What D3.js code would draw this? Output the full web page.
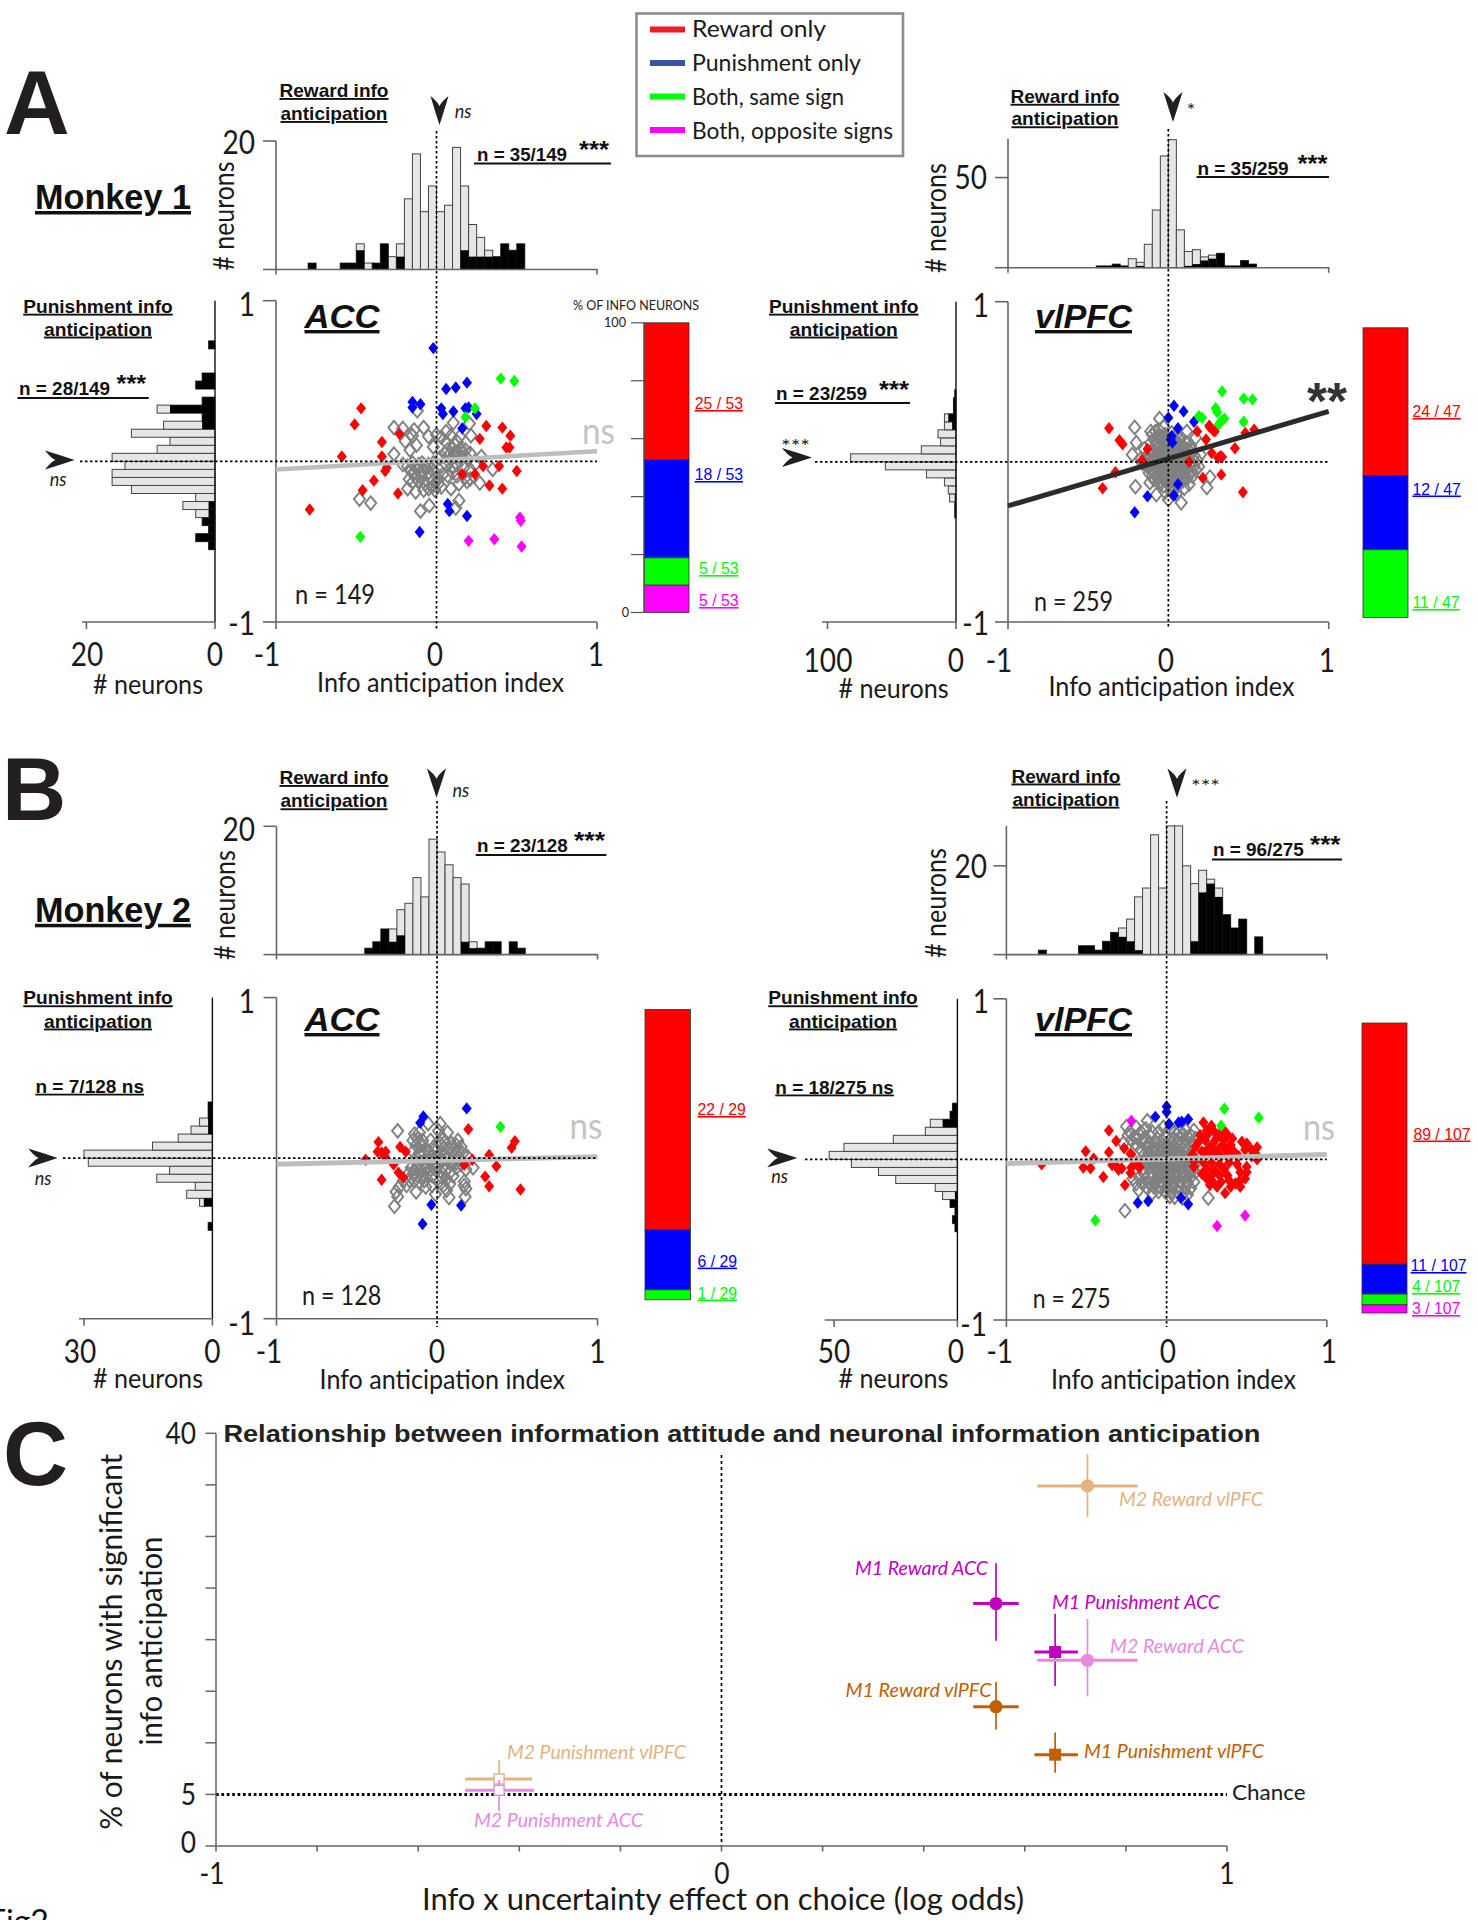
<!DOCTYPE html>
<html><head><meta charset="utf-8">
<script src="https://cdn.jsdelivr.net/npm/d3@7"></script>
<style>html,body{margin:0;padding:0;background:#fff;overflow:hidden}svg{display:block}</style>
</head><body><svg id="c" width="1478" height="1920"></svg>
<script>
// ---------- DATA ----------
const legendLabels=["Reward only","Punishment only","Both, same sign","Both, opposite signs"];
const legendColors=["#ED1C24","#3953A4","#00FF00","#FF00FF"];
const classColors=["#FF0000","#0000FF","#00FF00","#FF00FF"];

// histograms: 40 bins of 0.05 from -1 to 1
const m1AccRewardTotal=[0,0,0,0,1,0,0,0,1,1,4,1,1,4,2,4,11,18,9,13,9,10,19,13,7,5,3,2,4,3,4,0,0,0,0,0,0,0,0,0];
const m1AccRewardSig  =[0,0,0,0,1,0,0,0,1,1,3,0,1,4,0,2,0,0,0,0,0,0,0,3,2,2,2,2,4,3,4,0,0,0,0,0,0,0,0,0];
const m1AccPunishTotal=[0,0,0,0,0,0,0,0,0,1,3,1,2,3,5,3,13,16,16,14,16,9,7,13,8,2,9,2,0,3,2,0,0,0,1,0,0,0,0,0];
const m1AccPunishSig  =[0,0,0,0,0,0,0,0,0,1,3,1,2,1,1,0,0,0,0,0,0,0,0,0,2,2,7,2,0,3,2,0,0,0,1,0,0,0,0,0];
const m1VlRewardTotal =[0,0,0,0,0,0,0,0,0,0,0,1,1,2,1,5,3,13,32,62,71,21,9,10,6,7,8,1,1,4,2,0,0,0,0,0,0,0,0,0];
const m1VlRewardSig   =[0,0,0,0,0,0,0,0,0,0,0,1,1,2,1,0,1,0,0,0,0,0,1,2,4,5,8,1,1,4,2,0,0,0,0,0,0,0,0,0];
const m1VlPunishTotal =[0,0,0,0,0,0,0,0,0,0,0,0,0,1,1,5,6,9,23,55,82,27,12,14,9,9,2,2,1,0,0,0,0,0,0,0,0,0,0,0];
const m1VlPunishSig   =[0,0,0,0,0,0,0,0,0,0,0,0,0,1,1,1,0,0,0,0,0,0,0,0,3,6,2,2,1,0,0,0,0,0,0,0,0,0,0,0];
const m2AccRewardTotal=[0,0,0,0,0,0,0,0,0,0,0,1,2,4,4,7,8,12,9,18,16,14,12,11,2,1,2,2,0,2,1,0,0,0,0,0,0,0,0,0];
const m2AccRewardSig  =[0,0,0,0,0,0,0,0,0,0,0,1,2,4,2,3,0,0,0,0,0,0,0,2,1,1,2,2,0,2,1,0,0,0,0,0,0,0,0,0];
const m2AccPunishTotal=[0,0,0,0,0,0,0,0,0,0,0,1,0,0,3,6,4,13,10,29,30,14,8,5,3,1,1,0,0,0,0,0,0,0,0,0,0,0,0,0];
const m2AccPunishSig  =[0,0,0,0,0,0,0,0,0,0,0,1,0,0,2,0,0,0,0,0,0,0,0,1,1,1,1,0,0,0,0,0,0,0,0,0,0,0,0,0];
const m2VlRewardTotal =[0,0,0,0,1,0,0,0,0,2,2,1,3,5,6,8,13,15,27,15,29,29,20,16,19,17,15,9,6,8,0,4,0,0,0,0,0,0,0,0];
const m2VlRewardSig   =[0,0,0,0,1,0,0,0,0,2,2,1,3,5,4,3,1,0,0,0,0,0,0,3,14,16,13,9,6,8,0,4,0,0,0,0,0,0,0,0];
const m2VlPunishTotal =[0,0,0,0,0,0,0,0,0,0,0,1,2,1,3,6,9,25,32,43,52,46,26,13,11,3,2,0,0,0,0,0,0,0,0,0,0,0,0,0];
const m2VlPunishSig   =[0,0,0,0,0,0,0,0,0,0,0,1,2,1,3,1,0,0,0,0,0,0,0,0,6,3,2,0,0,0,0,0,0,0,0,0,0,0,0,0];

// regression end points [y at x=-1, y at x=1]
const m1AccFit=[-0.051,0.063], m1VlFit=[-0.275,0.315], m2AccFit=[-0.038,0.009], m2VlFit=[-0.026,0.031];

// stacked bars: reward only, punishment only, both same, both opposite
const m1AccCounts=[25,18,5,5], m1VlCounts=[24,12,11,0], m2AccCounts=[22,6,1,0], m2VlCounts=[89,11,4,3];

// scatter points [reward index, punishment index]
const m1AccRed=[[-.47,.33],[-.51,.23],[-.23,.17],[-.34,.12],[-.59,.03],[-.34,.03],[-.32,-.06],[-.31,-.04],[-.39,-.12],[-.46,-.18],[-.24,-.20],[-.79,-.30],[.31,.22],[.41,.21],[.46,.16],[.27,.14],[.435,.086],[.455,.086],[.29,-.03],[.39,-.03],[.50,-.06],[.16,-.08],[.24,-.08],[.33,-.15],[.41,-.17]];
const m1AccBlue=[[-.02,.705],[.06,.45],[.12,.46],[.19,.49],[-.15,.37],[-.15,.335],[-.10,.355],[.03,.33],[.04,.295],[.105,.31],[.18,.33],[.20,.335],[.25,.295],[.16,.205],[.07,-.265],[.08,-.31],[.19,-.34],[-.105,-.44]];
const m1AccGreen=[[.40,.515],[.485,.50],[.24,.33],[.18,.275],[-.475,-.47]];
const m1AccMagenta=[[.52,-.35],[.525,-.37],[.20,-.495],[.36,-.485],[.53,-.53]];
const m1AccGray=[[-.265,.21],[-.21,.205],[-.08,.21],[-.14,.195],[-.15,.16],[-.16,.17],[-.05,.155],[0,.165],[.06,.185],[.105,.24],[.205,.235],[.215,.16],[.145,.155],[-.12,.315],[-.195,.125],[-.165,.07],[-.125,.10],[-.02,.09],[-.265,.045],[.28,.03],[.35,-.05],[.27,-.135],[-.48,-.235],[-.41,-.26],[-.10,-.31],[-.045,-.275],[.14,-.245],[.12,-.29],[.19,-.125],[.03,.15],[.06,.12],[.09,.16],[.11,.11],[.13,.12],[.15,.08],[.10,.08],[.07,.07],[.05,.05],[.08,.04],[.11,.05],[.13,.06],[.16,.05],[.18,.07],[.12,.03],[.09,.01],[.15,.02],[.19,.02],[.21,.05],[.24,-.02],[.02,.02],[.03,-.03],[.06,-.02],[.1,-.03],[.13,-.02],[.17,-.04],[.21,-.05],[.1,-.07],[.13,-.09],[.18,-.1],[.21,-.11],[.14,-.14],[.07,-.09],[.04,-.08],[-.21,-.02],[-.18,-.03],[-.15,-.01],[-.13,-.03],[-.11,-.02],[-.09,-.01],[-.07,-.03],[-.05,-.02],[-.02,-.01],[-.16,-.06],[-.14,-.07],[-.12,-.05],[-.1,-.07],[-.08,-.06],[-.05,-.07],[-.03,-.05],[-.17,-.11],[-.15,-.13],[-.13,-.1],[-.11,-.12],[-.09,-.1],[-.07,-.14],[-.04,-.1],[-.02,-.12],[.01,-.11],[-.02,-.15],[-.01,-.18],[.01,-.14],[-.05,-.17],[-.08,-.18],[-.13,-.19],[-.18,-.17],[.03,-.16],[.09,-.17]];
const m1VlRed=[[-.37,.21],[-.305,.135],[-.285,.11],[-.13,.08],[-.165,.01],[-.33,-.065],[-.41,-.165],[.18,.19],[.255,.225],[.29,.19],[.235,.14],[.48,.18],[.535,.20],[.415,.085],[.325,.035],[.27,.055],[.31,.025],[.13,0],[.215,-.10],[.33,-.08],[.465,-.19],[.26,.215],[.335,.03],[.28,.195]];
const m1VlBlue=[[.035,.35],[.095,.315],[0,.275],[.06,.21],[.16,.25],[.02,.16],[.025,.12],[.015,.14],[.06,-.14],[.035,-.21],[-.13,-.215],[-.21,-.315]];
const m1VlGreen=[[.335,.44],[.47,.395],[.525,.39],[.21,.275],[.19,.285],[.295,.335],[.305,.31],[.35,.27],[.33,.255],[.315,.235],[.47,.25]];
const m1VlGray=[[-.21,.215],[-.2,.12],[-.225,.045],[-.205,-.155],[-.055,.27],[.26,-.095],[.24,-.16],[.08,-.255],[0,-.235],[-.075,-.205],[-.115,-.13],[.10,-.165],[.115,.19],[.17,.15],[.17,-.05],[.2,.045],[-.11,.19],[-.1,.17],[-.08,.19],[-.06,.2],[-.03,.22],[-.09,.14],[-.11,.12],[-.07,.12],[-.05,.16],[-.02,.17],[.02,.18],[.05,.17],[.08,.15],[.11,.12],[.14,.1],[.04,.13],[.07,.11],[.1,.08],[.13,.07],[.16,.04],[.18,.01],[.19,-.03],[.15,-.01],[.12,.03],[.09,.05],[.06,.07],[.03,.09],[0,.11],[-.03,.12],[-.06,.09],[-.09,.07],[-.12,.05],[-.14,.03],[-.16,-.01],[-.13,-.03],[-.1,.01],[-.08,.03],[-.05,.05],[-.02,.07],[.01,.06],[.04,.04],[.07,.02],[.1,0],[.13,-.02],[.14,-.06],[.11,-.05],[.08,-.03],[.05,-.01],[.02,.01],[-.01,.03],[-.04,.01],[-.07,-.01],[-.1,-.04],[-.12,-.07],[-.09,-.07],[-.06,-.05],[-.03,-.03],[0,-.02],[.03,-.04],[.06,-.06],[.09,-.08],[.12,-.1],[.09,-.12],[.06,-.1],[.03,-.08],[0,-.06],[-.03,-.07],[-.06,-.09],[-.09,-.11],[-.06,-.13],[-.03,-.11],[0,-.1],[.03,-.12],[.06,-.15],[.03,-.16],[0,-.14],[-.03,-.15],[-.02,-.19],[.02,-.19],[.05,-.2],[.13,-.14],[.15,-.09],[-.04,.04],[-.02,.02],[0,.04],[.02,.05],[.04,.02],[.06,.03],[-.01,-.01],[.01,-.03],[.03,0],[-.03,-.01],[-.05,-.03],[-.07,.05],[-.09,.02],[-.11,-.01],[.08,-.06],[.05,-.04],[.02,-.06],[-.01,-.05],[-.04,-.06],[.05,.09],[.02,.1],[-.01,.13],[-.04,.14],[-.07,.16],[.09,.1],[.12,.06],[.15,.07],[-.13,.01],[-.15,.08],[-.17,.02],[.16,-.03],[.11,-.03],
 [-.06,.03],[-.03,.05],[0,.07],[.03,.06],[.06,.05],[.08,.07],[-.02,-.04],[.01,-.01],[.04,-.02],[.07,-.04],[-.05,.0],[-.08,-.03],[.0,-.08],[.03,-.06],[-.03,-.09],[-.06,-.07],[.06,-.08],[.1,-.02],[.05,.07],[.01,.09],[-.04,.09],[-.07,.08],[.11,.03],[.09,-.01],[-.11,.06],[-.12,-.03],[-.1,-.09],[-.01,-.12],[.02,-.14],[-.05,-.12],[-.01,.15],[.03,.15],[-.08,.1],[.07,.14],[.04,-.11],[.1,-.1],[.01,.0],[-.02,-.02],[.03,.03],[0,.0]];
const m2AccRed=[[-.445,-.01],[-.365,.10],[-.37,.04],[-.345,.035],[-.32,.04],[-.325,.01],[-.27,-.04],[-.23,.07],[-.195,.04],[-.24,-.09],[-.21,-.12],[-.345,-.135],[.195,.18],[.22,-.01],[.17,-.04],[.325,.02],[.37,-.05],[.485,.105],[.465,.065],[.30,-.115],[.325,-.175],[.52,-.195]];
const m2AccBlue=[[.185,.31],[-.085,.26],[-.105,.22],[-.035,-.29],[.15,-.295],[-.09,-.41]];
const m2AccGreen=[[.395,.195]];
const m2AccGray=[[-.245,.17],[-.055,.215],[.02,.215],[.065,.16],[.13,.11],[.225,-.06],[.17,-.145],[.175,-.24],[.075,-.245],[-.01,-.225],[-.13,-.21],[-.265,-.30],[-.255,-.21],[-.245,-.24],[-.235,-.18],[.17,-.17],[.18,-.19],[-.14,.15],[-.11,.16],[-.15,.11],[-.12,.12],[-.09,.11],[-.13,.08],[-.1,.08],[-.07,.06],[-.05,.04],[-.11,.03],[-.08,.03],[-.15,.04],[.01,.17],[.03,.13],[.02,.09],[.05,.1],[.09,.09],[.12,.08],[.15,.07],[.04,.06],[.07,.06],[.1,.05],[.13,.04],[.16,.03],[0,.05],[.02,.03],[.05,.02],[.08,.02],[.11,.01],[.14,0],[-.03,.01],[-.06,.01],[0,.01],[.03,-.01],[.06,-.01],[.09,-.02],[.12,-.03],[.15,-.04],[-.14,-.01],[-.11,-.03],[-.08,-.03],[-.05,-.02],[-.02,-.03],[.01,-.04],[.04,-.05],[-.16,-.06],[-.13,-.06],[-.1,-.07],[-.07,-.06],[-.04,-.07],[-.01,-.07],[.02,-.08],[.05,-.08],[.08,-.09],[-.18,-.1],[-.15,-.1],[-.12,-.11],[-.09,-.11],[-.06,-.1],[-.03,-.11],[.03,-.12],[.06,-.13],[.1,-.11],[-.17,-.14],[-.14,-.14],[-.11,-.15],[-.08,-.14],[.01,-.15],[.04,-.17],[.08,-.16],[-.21,-.14],[-.19,-.17],[-.03,-.17],[-.07,-.18],[.12,-.06],[.18,-.07],[.19,.01],[.1,-.03],[.02,-.01],[-.02,.07],[-.04,.11],[.06,-.2]];
const m2VlRed=[[-.78,-.03],[-.36,.18],[-.315,.115],[-.265,.07],[-.505,.05],[-.455,.005],[-.36,.045],[-.225,.035],[-.52,-.05],[-.475,-.055],[-.395,-.11],[-.26,-.16],[-.32,-.035],[-.30,-.065],[-.34,-.035],[-.225,-.085],[-.205,-.035],[-.17,-.05],[-.28,-.055],[-.185,-.015],[-.22,.03],[-.22,-.05],[-.17,-.045],[.23,.23],[.28,.21],[.25,.18],[.21,.15],[.18,.08],[.2,.11],[.24,.12],[.3,.17],[.33,.15],[.375,.16],[.36,.12],[.41,.13],[.47,.11],[.5,.1],[.49,.06],[.4,.09],[.34,.08],[.29,.1],[.26,.07],[.22,.05],[.31,.05],[.37,.06],[.42,.05],[.53,.06],[.565,.075],[.565,0],[.56,.03],[.5,-.045],[.44,-.03],[.39,-.02],[.33,-.03],[.28,-.02],[.23,-.02],[.17,-.045],[.17,-.01],[.25,-.06],[.3,-.07],[.36,-.06],[.46,-.08],[.5,-.08],[.49,-.12],[.45,-.14],[.38,-.1],[.33,-.1],[.28,-.1],[.25,-.12],[.29,-.14],[.34,-.14],[.39,-.13],[.43,-.15],[.46,-.17],[.365,-.21],[.315,-.17],[.4,-.17],[.27,-.16],[.22,-.09],[.16,.03],[.24,.02],[.28,.04],[.34,.02],[.39,.03],[.45,.02],[.53,.02],[.35,.19],[.31,.13],[.26,.16]];
const m2VlBlue=[[-.18,-.27],[-.115,-.26],[-.07,.265],[0,.33],[0,.295],[.015,.22],[.075,.23],[.095,.235],[.135,.25],[.09,-.24],[.135,-.28]];
const m2VlGreen=[[-.445,-.38],[.36,.315],[.34,.21],[.575,.26]];
const m2VlMagenta=[[-.22,.24],[.49,-.35],[.315,-.415]];
const m2VlGray=[[-.12,.24],[.26,-.24],[.05,-.235],[-.26,-.32],[-.25,.205],[-.175,-.19],[-.19,.2],[-.24,.15],[-.22,.12],[-.27,.1],[-.2,.14],[-.16,.17],[-.13,.19],[-.1,.14],[-.05,.17],[-.02,.2],[.02,.19],[.05,.17],[.08,.17],[.12,.18],[.15,.15],[.17,.18],[.12,.12],[.08,.13],[.04,.12],[0,.14],[-.03,.12],[-.07,.11],[-.11,.1],[-.15,.11],[-.19,.09],[-.16,.06],[-.12,.07],[-.08,.07],[-.04,.08],[0,.09],[.04,.08],[.08,.09],[.12,.08],[.16,.1],[.17,.05],[.13,.05],[.09,.04],[.05,.05],[.01,.05],[-.03,.04],[-.07,.04],[-.11,.04],[-.14,.03],[-.12,.01],[-.08,.01],[-.04,.01],[0,.02],[.04,.02],[.08,.01],[.12,.01],[.16,.02],[.18,0],[.15,-.01],[.11,-.02],[.07,-.02],[.03,-.02],[-.01,-.01],[-.05,-.02],[-.09,-.02],[-.13,-.02],[-.15,-.06],[-.11,-.05],[-.07,-.05],[-.03,-.05],[.01,-.05],[.05,-.05],[.09,-.05],[.13,-.05],[.17,-.04],[.18,-.08],[.14,-.08],[.1,-.08],[.06,-.08],[.02,-.08],[-.02,-.08],[-.06,-.08],[-.1,-.08],[-.14,-.09],[-.17,-.11],[-.13,-.12],[-.09,-.11],[-.05,-.11],[-.01,-.11],[.03,-.11],[.07,-.11],[.11,-.11],[.15,-.11],[.17,-.14],[.13,-.14],[.09,-.14],[.05,-.14],[.01,-.14],[-.03,-.14],[-.07,-.14],[-.11,-.15],[-.15,-.15],[-.19,-.15],[-.21,-.12],[-.12,-.18],[-.08,-.17],[-.04,-.17],[0,-.17],[.04,-.17],[.08,-.17],[.12,-.17],[.15,-.18],[.11,-.2],[.07,-.2],[.03,-.2],[-.01,-.2],[-.05,-.2],[-.09,-.21],[.02,-.23],[.13,-.22],[.1,-.24],[.06,-.03],[-.02,.03],[.02,.07],[-.06,.13],[.02,.12],[.06,.1],[.1,.11],[.14,.13],[.18,.13],[.1,.16],[-.09,.17],[-.14,.13],[-.18,.13],[-.23,.17],[-.16,-.03],[.16,-.07],
 [-.1,.06],[-.06,.06],[-.02,.06],[.02,.04],[.06,.06],[.1,.06],[.14,.06],[-.1,-.01],[-.06,-.01],[-.02,.0],[.02,.0],[.06,.0],[.1,.0],[.14,.03],[-.12,-.04],[-.08,-.04],[-.04,-.04],[0,-.04],[.04,-.04],[.08,-.04],[.12,-.04],[-.08,-.1],[-.04,-.1],[0,-.09],[.04,-.09],[.08,-.1],[.12,-.1],[-.06,-.13],[.0,-.12],[.06,-.12],[.02,-.16],[-.02,-.16]];

// panel C
const cNames=["M2 Reward vlPFC","M1 Reward ACC","M1 Punishment ACC","M2 Reward ACC","M1 Reward vlPFC","M1 Punishment vlPFC","M2 Punishment vlPFC","M2 Punishment ACC"];
const cX=[.724,.543,.660,.724,.543,.660,-.44,-.44];
const cXLow=[.625,.498,.619,.625,.498,.619,-.507,-.507];
const cXHigh=[.823,.588,.705,.823,.588,.705,-.375,-.371];
const cY=[34.9,23.5,18.8,18.0,13.5,8.85,6.5,5.4];
const cYLow=[31.9,19.9,15.5,14.5,11.3,7.1,5.1,3.4];
const cYHigh=[38.0,27.4,22.5,22.0,15.9,11.0,8.3,6.4];
const cXTicks=[-1,-.8,-.6,-.4,-.2,0,.2,.4,.6,.8,1];
const cYTicks=[0,5,10,15,20,25,30,35,40];

// ---------- DRAWING ----------
const svg=d3.select("#c");
const SANS="'Liberation Sans',Arial,sans-serif", LATO="Lato,sans-serif";
function txt(x,y,s,o={}){
  const e=svg.append("text").attr("x",x).attr("y",y).text(s)
    .attr("font-family",o.f||LATO).attr("font-size",o.s||24)
    .attr("fill",o.c||"#1a1a1a").attr("text-anchor",o.a||"middle");
  if(o.b)e.attr("font-weight","bold");
  if(o.i)e.attr("font-style","italic");
  if(o.u)e.attr("text-decoration","underline");
  if(o.r!=null)e.attr("transform",`rotate(${o.r} ${x} ${y})`);
  const w=o.w||(o.cond?e.node().getComputedTextLength()*o.cond:null);
  if(w)e.attr("textLength",w).attr("lengthAdjust","spacingAndGlyphs");
  return e;
}
function num(x,cy,s,a,size){txt(x,cy+(size||33)*.35,s,{s:size||33,cond:.85,a:a||"middle"});}
function styleAxis(g,col,w){
  g.selectAll("path,line").attr("stroke",col||"#666").attr("stroke-width",w||1.6).attr("fill","none");
  g.selectAll("text").remove();
}
function arrowDown(x,top,tip,hw){
  const h=tip-top,n=top+h*.35;
  svg.append("path").attr("fill","#231F20")
   .attr("d",`M${x},${tip} Q${x-hw*.62},${top+h*.4} ${x-hw},${top} Q${x-hw*.2},${top+h*.2} ${x},${n} Q${x+hw*.2},${top+h*.2} ${x+hw},${top} Q${x+hw*.62},${top+h*.4} ${x},${tip}Z`);
}
function arrowRight(left,tip,y,hh){
  const w=tip-left,n=left+w*.35;
  svg.append("path").attr("fill","#231F20")
   .attr("d",`M${tip},${y} Q${left+w*.4},${y-hh*.62} ${left},${y-hh} Q${left+w*.2},${y-hh*.2} ${n},${y} Q${left+w*.2},${y+hh*.2} ${left},${y+hh} Q${left+w*.4},${y+hh*.62} ${tip},${y}Z`);
}
const diamond=(w,h)=>`M0,${-h}L${w},0L0,${h}L${-w},0Z`;

function panel(p){
  const x=d3.scaleLinear([-1,1],p.sx), y=d3.scaleLinear([-1,1],p.sy);
  const binW=.05;
  // top histogram
  const ty=d3.scaleLinear([0,p.top.max],[p.top.base,p.top.axisTop]);
  const tg=svg.append("g");
  p.top.total.forEach((v,i)=>{ if(!v)return;
    tg.append("rect").attr("x",x(-1+i*binW)).attr("width",x(binW)-x(0)).attr("y",ty(v)).attr("height",ty(0)-ty(v))
      .attr("fill","#E6E6E6").attr("stroke","#444").attr("stroke-width",1);
  });
  p.top.sig.forEach((v,i)=>{ if(!v)return;
    tg.append("rect").attr("x",x(-1+i*binW)).attr("width",x(binW)-x(0)).attr("y",ty(v)).attr("height",ty(0)-ty(v))
      .attr("fill","#000");
  });
  styleAxis(svg.append("g").attr("transform",`translate(${p.sx[0]},0)`).call(d3.axisLeft(ty).tickValues([0,p.top.tick]).tickSize(13).tickSizeOuter(0).tickFormat("").offset(0)));
  styleAxis(svg.append("g").attr("transform",`translate(0,${p.top.base})`).call(d3.axisBottom(x).tickValues([]).tickSizeOuter(5).offset(0)));
  // left histogram
  const lx=d3.scaleLinear([0,p.left.tick],[p.left.x0,p.left.xTick]);
  const lg=svg.append("g");
  p.left.total.forEach((v,k)=>{ if(!v)return;
    lg.append("rect").attr("x",lx(v)).attr("width",lx(0)-lx(v)).attr("y",y(-1+(k+1)*binW)).attr("height",y(0)-y(binW))
      .attr("fill","#E6E6E6").attr("stroke","#444").attr("stroke-width",1);
  });
  p.left.sig.forEach((v,k)=>{ if(!v)return;
    lg.append("rect").attr("x",lx(v)).attr("width",lx(0)-lx(v)).attr("y",y(-1+(k+1)*binW)).attr("height",y(0)-y(binW))
      .attr("fill","#000");
  });
  svg.append("line").attr("x1",p.left.x0).attr("x2",p.left.x0).attr("y1",p.sy[1]).attr("y2",p.sy[0]).attr("stroke","#111").attr("stroke-width",1.4);
  const lAxisScale=d3.scaleLinear([p.left.x0,p.left.lineLeft],[p.left.x0,p.left.lineLeft]);
  styleAxis(svg.append("g").attr("transform",`translate(0,${p.sy[0]})`).call(d3.axisBottom(lAxisScale).tickValues([lx(0),lx(p.left.tick)]).tickSize(7).tickSizeOuter(0).tickFormat("").offset(0)));
  // scatter axes
  styleAxis(svg.append("g").attr("transform",`translate(${p.sx[0]},0)`).call(d3.axisLeft(y).tickValues([-1,1]).tickSize(13).tickSizeOuter(0).tickFormat("").offset(0)));
  styleAxis(svg.append("g").attr("transform",`translate(0,${p.sy[0]})`).call(d3.axisBottom(x).tickValues([-1,1]).tickSize(7).tickSizeOuter(0).tickFormat("").offset(0)));
  // points
  const sg=svg.append("g");
  sg.selectAll(".g").data(p.gray).join("path").attr("d",diamond(5.6,6.8))
    .attr("transform",d=>`translate(${x(d[0])},${y(d[1])})`).attr("fill","none").attr("stroke","#808080").attr("stroke-width",1.9);
  [[p.red,0],[p.blue,1],[p.green,2],[p.magenta,3]].forEach(([pts,c])=>{
    sg.selectAll(".c"+c).data(pts||[]).join("path").attr("d",diamond(5,6.2))
      .attr("transform",d=>`translate(${x(d[0])},${y(d[1])})`).attr("fill",classColors[c]);
  });
  // regression
  svg.append("line").attr("x1",x(-1)).attr("x2",x(1)).attr("y1",y(p.fit[0])).attr("y2",y(p.fit[1]))
    .attr("stroke",p.fitColor).attr("stroke-width",p.fitW);
  // dotted axes
  svg.append("line").attr("x1",p.hLeft).attr("x2",p.sx[1]).attr("y1",y(0)).attr("y2",y(0)).attr("stroke","#000").attr("stroke-width",1.7).attr("stroke-dasharray","2.5,2.5");
  svg.append("line").attr("x1",x(0)).attr("x2",x(0)).attr("y1",p.vTop).attr("y2",p.vBottom).attr("stroke","#000").attr("stroke-width",1.7).attr("stroke-dasharray","2.5,2.5");
  // stacked bar: first class on top
  const st=p.stack, total=d3.sum(st.counts), by=d3.scaleLinear([0,total],[st.top,st.bottom]);
  const cum=[0,...d3.cumsum(st.counts)];
  st.counts.forEach((v,i)=>{ if(!v)return;
    svg.append("rect").attr("x",st.x0).attr("width",st.x1-st.x0).attr("y",by(cum[i])).attr("height",by(cum[i+1])-by(cum[i]))
      .attr("fill",classColors[i]).attr("stroke","#333").attr("stroke-width",.8);
  });
  st.labels.forEach(l=>txt(l[0],l[1],`${st.counts[l[2]]} / ${total}`,{f:SANS,s:15.8,c:classColors[l[2]],a:"start",u:1}));
}

const panels=[
 {sx:[276,597],sy:[622,300.7],hLeft:80,vTop:131,vBottom:629,fit:m1AccFit,fitColor:"#BDBDBD",fitW:4.5,
  top:{base:269.5,axisTop:141,max:20,tick:20,total:m1AccRewardTotal,sig:m1AccRewardSig},
  left:{x0:215,xTick:86.4,tick:20,lineLeft:82,total:m1AccPunishTotal,sig:m1AccPunishSig},
  gray:m1AccGray,red:m1AccRed,blue:m1AccBlue,green:m1AccGreen,magenta:m1AccMagenta,
  stack:{counts:m1AccCounts,x0:644,x1:689,top:322.8,bottom:612.5,labels:[[694.7,409,0],[694.7,480,1],[699,574,2],[699,606,3]]}},
 {sx:[1008,1328.7],sy:[622,301.7],hLeft:815,vTop:129,vBottom:629,fit:m1VlFit,fitColor:"#2b2b2b",fitW:5,
  top:{base:267.7,axisTop:139,max:71.4,tick:50,total:m1VlRewardTotal,sig:m1VlRewardSig},
  left:{x0:956,xTick:827.5,tick:100,lineLeft:822,total:m1VlPunishTotal,sig:m1VlPunishSig},
  gray:m1VlGray,red:m1VlRed,blue:m1VlBlue,green:m1VlGreen,
  stack:{counts:m1VlCounts,x0:1363,x1:1408,top:327.8,bottom:617.5,labels:[[1412.5,417,0],[1412.5,494.5,1],[1412.5,608,2]]}},
 {sx:[276.5,597.5],sy:[1318.7,997.6],hLeft:63,vTop:801,vBottom:1327,fit:m2AccFit,fitColor:"#BDBDBD",fitW:5,
  top:{base:954.6,axisTop:826.3,max:20,tick:20,total:m2AccRewardTotal,sig:m2AccRewardSig},
  left:{x0:212.4,xTick:84,tick:30,lineLeft:79,total:m2AccPunishTotal,sig:m2AccPunishSig},
  gray:m2AccGray,red:m2AccRed,blue:m2AccBlue,green:m2AccGreen,
  stack:{counts:m2AccCounts,x0:645,x1:690.4,top:1009.4,bottom:1299.8,labels:[[697.5,1115,0],[697.5,1266.6,1],[697.5,1298.6,2]]}},
 {sx:[1006.4,1326.8],sy:[1320,998.8],hLeft:805,vTop:801,vBottom:1327,fit:m2VlFit,fitColor:"#BDBDBD",fitW:5,
  top:{base:954.6,axisTop:825.9,max:29,tick:20,total:m2VlRewardTotal,sig:m2VlRewardSig},
  left:{x0:957.4,xTick:834.1,tick:50,lineLeft:824.7,total:m2VlPunishTotal,sig:m2VlPunishSig},
  gray:m2VlGray,red:m2VlRed,blue:m2VlBlue,green:m2VlGreen,magenta:m2VlMagenta,
  stack:{counts:m2VlCounts,x0:1362,x1:1407,top:1023,bottom:1313,labels:[[1413.4,1139.5,0],[1410.6,1271,1],[1412,1292,2],[1412,1314,3]]}}
];
panels.forEach(panel);

// ---- legend ----
svg.append("rect").attr("x",636.5).attr("y",13.5).attr("width",266.5).attr("height",142.5).attr("fill","#fff").attr("stroke","#8c8c8c").attr("stroke-width",2.6);
const legY=d3.scalePoint(legendLabels,[29.5,130]);
legendLabels.forEach((l,i)=>{
  svg.append("line").attr("x1",650).attr("x2",685).attr("y1",legY(l)).attr("y2",legY(l)).attr("stroke",legendColors[i]).attr("stroke-width",6);
});
txt(692,37,legendLabels[0],{s:24,a:"start",w:134});
txt(692,71,legendLabels[1],{s:24,a:"start",w:169});
txt(692,105,legendLabels[2],{s:24,a:"start",w:152});
txt(692,139,legendLabels[3],{s:24,a:"start",w:201});

// ---- panel letters ----
txt(4,134,"A",{f:SANS,b:1,s:91,a:"start",c:"#231F20"});
txt(2,820,"B",{f:SANS,b:1,s:89,a:"start",c:"#231F20"});
txt(3,1485,"C",{f:SANS,b:1,s:90,a:"start",c:"#231F20"});

// ---- shared label helpers ----
const BU={f:SANS,b:1,s:19,u:1,c:"#111"};
const N={f:SANS,b:1,s:18,a:"start",c:"#111"};
const STAR={f:SANS,b:1,s:23,a:"start",c:"#111"};
const MK={f:SANS,b:1,s:35,a:"start",u:1,w:156,c:"#111"};
function head(cx,y1,y2,a,b){txt(cx,y1,a,{...BU,w:a.startsWith("Pun")?149.5:109});txt(cx,y2,b,{...BU,w:a.startsWith("Pun")?108:107});}
function nLine(x1,y,x2,yl,xl1,xl2,s){txt(x1,y,s,{...N,w:x2-x1});svg.append("line").attr("x1",xl1).attr("x2",xl2).attr("y1",yl).attr("y2",yl).attr("stroke","#111").attr("stroke-width",1.8);}
function stars(x,w,top,s="***"){txt(x,top+16.5,s,{...STAR,w});}
const ITNS={s:20,i:1,cond:.9,c:"#222"};

// --- A ACC
txt(35,209,"Monkey 1",MK);
head(334,97,120,"Reward info","anticipation");
arrowDown(439.5,96,125,9);txt(463,117.5,"ns",ITNS);
num(255,142,"20","end");txt(234,216,"# neurons",{s:29,w:109,r:-90});
nLine(477,160.7,567,163.5,474,611,"n = 35/149");stars(579,30,141);
head(98,312.7,335.6,"Punishment info","anticipation");
txt(304.5,328,"ACC",{f:SANS,b:1,i:1,s:34,a:"start",u:1,w:75,c:"#111"});
nLine(19,395,110,398,17.5,148.7,"n = 28/149");stars(116.6,29.5,375.5);
arrowRight(45,74.6,460,9.5);txt(58,486,"ns",ITNS);
txt(295,603.5,"n = 149",{s:26,a:"start",w:80});
num(255,304,"1","end");num(255,623.5,"-1","end");
num(87,654,"20");num(215,654,"0");num(267,654,"-1");num(435,654,"0");num(596,654,"1");
txt(148,694,"# neurons",{s:26,w:110});txt(440.5,692,"Info anticipation index",{s:26,w:247});
txt(598.5,444,"ns",{s:37,w:33,c:"#C4C4C4"});
txt(636,310,"% OF INFO NEURONS",{s:14,w:126,c:"#222"});
{const ps=d3.scaleLinear([0,100],[612.5,322.8]);
 styleAxis(svg.append("g").attr("transform","translate(644,0)").call(d3.axisLeft(ps).tickValues([0,20,40,60,80,100]).tickSize(13).tickSizeOuter(0).tickFormat("").offset(0)),"#555",1.2);
 txt(629,616.5,"0",{s:14,a:"end",c:"#222",cond:.9});txt(626,327,"100",{s:14,a:"end",c:"#222",cond:.9});}

// --- A vlPFC
head(1065,102.8,125.3,"Reward info","anticipation");
arrowDown(1173,92,122,9.5);txt(1191,117,"*",{s:20,c:"#222"});
num(987,177,"50","end");txt(945.6,218,"# neurons",{s:29,w:110,r:-90});
nLine(1197.4,175,1288.7,177,1196.5,1329,"n = 35/259");stars(1297.6,30,155);
head(843.7,312.7,335.6,"Punishment info","anticipation");
txt(1035,328,"vlPFC",{f:SANS,b:1,i:1,s:34,a:"start",u:1,w:97,c:"#111"});
nLine(776,400,867,403,775,910,"n = 23/259");stars(879,30,381);
arrowRight(782,812,457.5,9.5);txt(795.5,453,"***",{s:20,w:29,c:"#222"});
txt(1034,610.6,"n = 259",{s:26,a:"start",w:79});
num(989,305,"1","end");num(989,623.5,"-1","end");
num(828,660,"100");num(956,660,"0");num(999,660,"-1");num(1166,660,"0");num(1327,660,"1");
txt(893.6,698,"# neurons",{s:26,w:110});txt(1171.5,695.6,"Info anticipation index",{s:26,w:246});
txt(1327,419,"**",{f:SANS,b:1,s:52,w:40,c:"#333"});

// --- B ACC
head(334,784,807.3,"Reward info","anticipation");
arrowDown(436.5,768.6,797.7,9.5);txt(460.8,797,"ns",ITNS);
num(255,829.6,"20","end");txt(234.5,905,"# neurons",{s:29,w:110,r:-90});
txt(35,921.8,"Monkey 2",MK);
nLine(477,851.5,567.7,855,475.7,606.4,"n = 23/128");stars(574,31,832.6);
head(98,1004.3,1027.5,"Punishment info","anticipation");
txt(304.5,1031,"ACC",{f:SANS,b:1,i:1,s:34,a:"start",u:1,w:75,c:"#111"});
txt(35.4,1092.7,"n = 7/128 ns",{...N,u:1,w:108.6});
arrowRight(28.3,57.6,1158,9.5);txt(43,1185,"ns",ITNS);
txt(302,1304.5,"n = 128",{s:26,a:"start",w:79.3});
num(255,1001,"1","end");num(255,1323,"-1","end");
num(80,1351,"30");num(212.4,1351,"0");num(269,1351,"-1");num(437,1351,"0");num(597.5,1351,"1");
txt(148,1388,"# neurons",{s:26,w:110});txt(442.3,1389,"Info anticipation index",{s:26,w:245.5});
txt(586,1139,"ns",{s:37,w:33,c:"#C4C4C4"});

// --- B vlPFC
head(1065.9,782.5,805.7,"Reward info","anticipation");
arrowDown(1177,768.6,797.7,9.5);txt(1205.5,793,"***",{s:20,w:29,c:"#222"});
num(987,866,"20","end");txt(945.6,903,"# neurons",{s:29,w:110,r:-90});
nLine(1213,856,1303.8,859.5,1212,1342,"n = 96/275");stars(1310,30.5,836.8);
head(843,1004.3,1027.5,"Punishment info","anticipation");
txt(1035,1031,"vlPFC",{f:SANS,b:1,i:1,s:34,a:"start",u:1,w:97,c:"#111"});
txt(775.3,1093.5,"n = 18/275 ns",{...N,u:1,w:118.6});
arrowRight(767.3,797.4,1158,9.5);txt(779.5,1183,"ns",ITNS);
txt(1032.7,1307.5,"n = 275",{s:26,a:"start",w:78});
num(989,1001,"1","end");num(987,1324,"-1","end");
num(834,1351,"50");num(956,1351,"0");num(999.8,1351,"-1");num(1168,1351,"0");num(1329,1351,"1");
txt(893.4,1388,"# neurons",{s:26,w:110});txt(1173.4,1389,"Info anticipation index",{s:26,w:245});
txt(1319,1140,"ns",{s:37,w:32,c:"#C4C4C4"});

// ---- panel C ----
const cx=d3.scaleLinear([-1,1],[216,1227]), cy=d3.scaleLinear([0,40],[1846,1433.3]);
svg.append("line").attr("x1",cx(0)).attr("x2",cx(0)).attr("y1",1455).attr("y2",cy(0)).attr("stroke","#000").attr("stroke-width",1.7).attr("stroke-dasharray","3,3");
svg.append("line").attr("x1",cx(-1)).attr("x2",cx(1)).attr("y1",cy(5)).attr("y2",cy(5)).attr("stroke","#000").attr("stroke-width",3).attr("stroke-dasharray","2.7,2.7");
styleAxis(svg.append("g").attr("transform","translate(216,0)").call(d3.axisLeft(cy).tickValues(cYTicks).tickSize(10.5).tickSizeOuter(0).tickFormat("").offset(0)),"#666",1.5);
styleAxis(svg.append("g").attr("transform","translate(0,1846)").call(d3.axisBottom(cx).tickValues(cXTicks).tickSize(5.5).tickSizeOuter(0).tickFormat("").offset(0)),"#666",1.6);
const cColors=["#E3B27F","#C000C0","#C000C0","#E68AE0","#C05F00","#C05F00","#E3B27F","#E68AE0"];
const cShapes=["c","c","s","c","c","s","o","o"];
cNames.forEach((n,i)=>{
  const c=cColors[i], open=cShapes[i]==="o";
  svg.append("line").attr("x1",cx(cX[i])).attr("x2",cx(cX[i])).attr("y1",cy(cYLow[i])).attr("y2",cy(cYHigh[i])).attr("stroke",c).attr("stroke-width",1.7);
  svg.append("line").attr("x1",cx(cXLow[i])).attr("x2",cx(cXHigh[i])).attr("y1",cy(cY[i])).attr("y2",cy(cY[i])).attr("stroke",c).attr("stroke-width",3);
  if(cShapes[i]==="c")svg.append("circle").attr("cx",cx(cX[i])).attr("cy",cy(cY[i])).attr("r",6.6).attr("fill",c);
  else{const s=open?10:12;svg.append("rect").attr("x",cx(cX[i])-s/2).attr("y",cy(cY[i])-s/2).attr("width",s).attr("height",s)
     .attr("fill",open?"#fff":c).attr("stroke",open?c:"none").attr("stroke-width",1.4);}
});
const cLabelPos=[[1119,1506,144],[855,1575.3,133],[1052,1609.3,168],[1110,1652.7,134],[845.5,1696.7,146],[1084,1758.3,180],[507,1758.7,179],[474,1826.7,169]];
cNames.forEach((n,i)=>txt(cLabelPos[i][0],cLabelPos[i][1],n,{s:18.5,i:1,a:"start",c:cColors[i],w:cLabelPos[i][2]}));
txt(1232,1800,"Chance",{s:21,a:"start",w:73.5});
txt(223.4,1441.7,"Relationship between information attitude and neuronal information anticipation",{f:SANS,b:1,s:23,a:"start",w:1037,c:"#222"});
txt(122.5,1641.7,"% of neurons with significant",{s:30,w:376,r:-90});
txt(162,1641,"info anticipation",{s:30,w:209,r:-90});
num(196,1433.3,"40","end",31);num(196,1794,"5","end",31);num(196,1842.5,"0","end",31);
num(212,1873.3,"-1",null,31);num(722,1873.3,"0",null,31);num(1227,1873.3,"1",null,31);
txt(723,1910,"Info x uncertainty effect on choice (log odds)",{s:31,w:602});
txt(-12,1933,"Fig2",{s:32,a:"start",c:"#111"});
</script></body></html>
